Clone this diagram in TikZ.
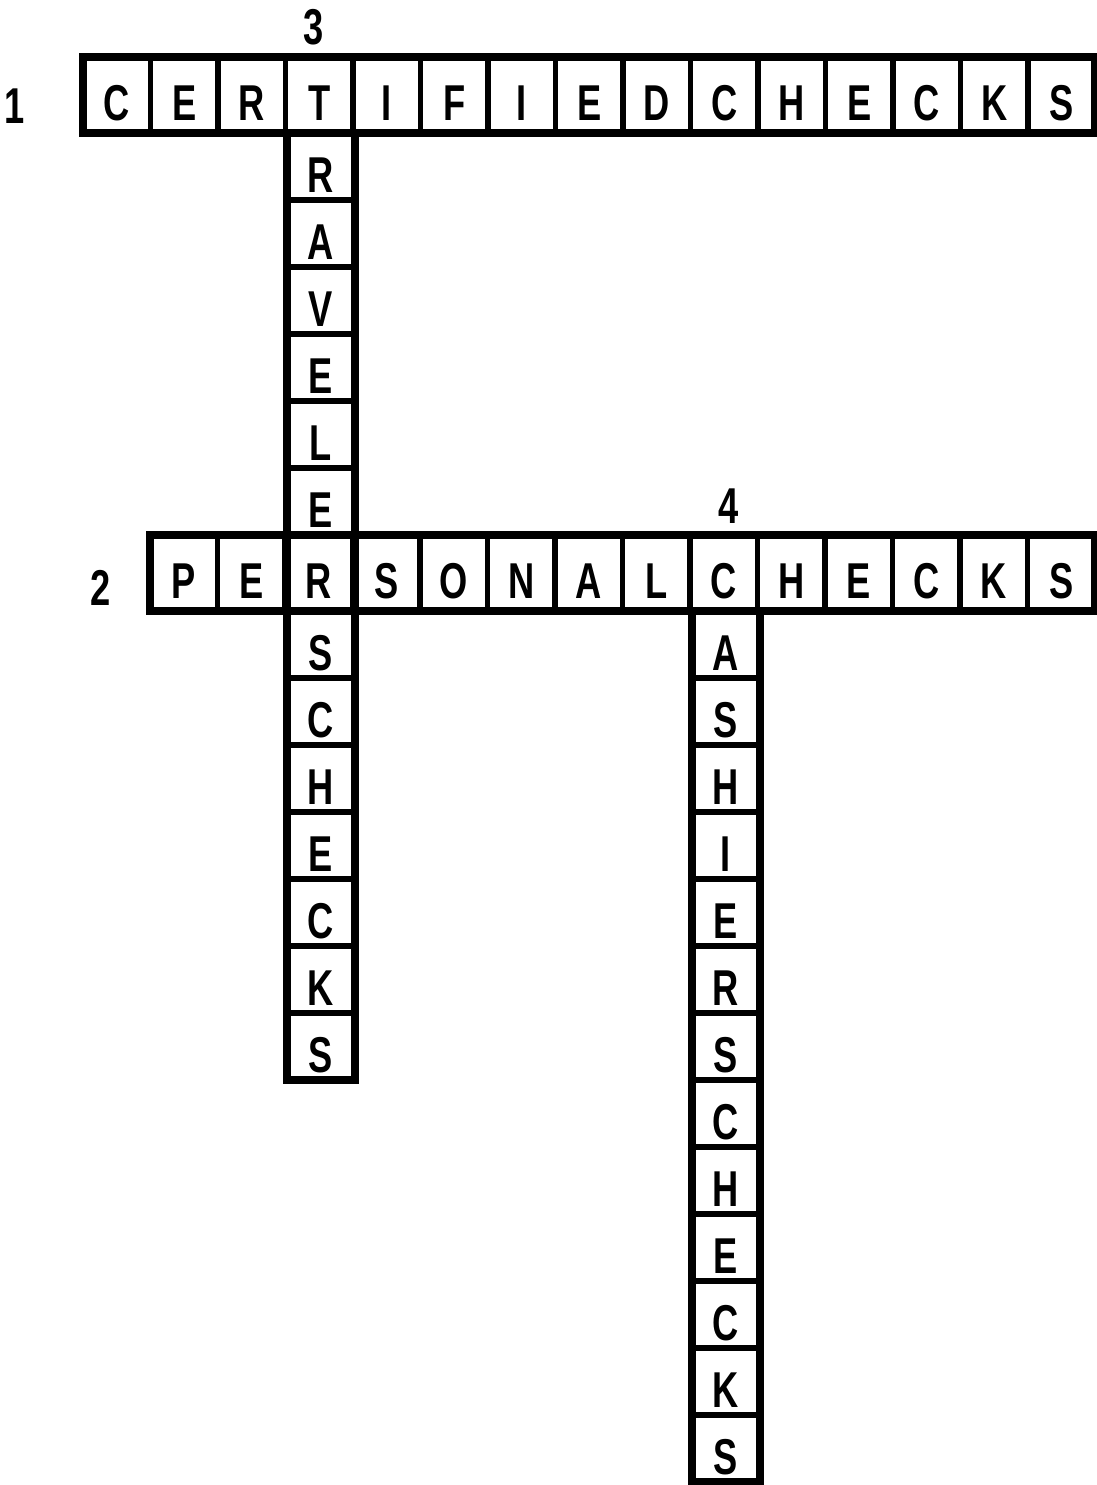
\documentclass[tikz,border=0pt]{standalone}
\usepackage{fontspec}
\usepackage{tikz}
\newfontfamily\cellfont[FakeStretch=0.72]{Liberation Sans}

\tikzset{
  cell/.style={draw, line width=5pt, outer sep=0pt, inner sep=0pt,
    minimum width=2.025cm, text height=1.55cm, text depth=0pt,
    font=\cellfont\bfseries\fontsize{43}{44}\selectfont},
  frame/.style={line width=7pt},
  num/.style={font=\cellfont\bfseries\fontsize{43}{44}\selectfont}
}

\begin{document}
\begin{tikzpicture}[x=0.03cm, y=-0.03cm]
  \def\w{67.5}
  \def\v{67}
  \useasboundingbox (0,0) rectangle (1097,1485);

  % row 1
  \foreach \l [count=\i] in {C,E,R,T,I,F,I,E,D,C,H,E,C,K,S} {
    \pgfmathsetmacro{\xc}{83+(\i-0.5)*\w}
    \node[cell, minimum height=2.28cm] (a\i) at (\xc,95) {\l};
  }

  % row 2
  \foreach \l [count=\i] in {P,E,R,S,O,N,A,L,C,H,E,C,K,S} {
    \pgfmathsetmacro{\xc}{150+(\i-0.5)*\w}
    \node[cell, minimum height=2.28cm] (p\i) at (\xc,573) {\l};
  }

  % column 3
  \foreach \l [count=\i] in {R,A,V,E,L,E} {
    \pgfmathsetmacro{\yc}{133+(\i-0.5)*\v}
    \node[cell, minimum height=2.01cm] (t\i) at (321,\yc) {\l};
  }
  \foreach \l [count=\i] in {S,C,H,E,C,K,S} {
    \pgfmathsetmacro{\yc}{611+(\i-0.5)*\v}
    \node[cell, minimum height=2.01cm] (u\i) at (321,\yc) {\l};
  }

  % column 4
  \foreach \l [count=\i] in {A,S,H,I,E,R,S,C,H,E,C,K,S} {
    \pgfmathsetmacro{\yc}{611+(\i-0.5)*\v}
    \node[cell, minimum height=2.01cm] (k\i) at (726,\yc) {\l};
  }

  \draw[frame] (a1.north west) rectangle (a15.south east);
  \draw[frame] (p1.north west) rectangle (p14.south east);
  \draw[frame] (t1.north west) rectangle (u7.south east);
  \draw[frame] (k1.north west) rectangle (k13.south east);

  \node[num] (n1) at (15,106) {1};
  \node[num] (n2) at (101,588) {2};
  \node[num] (n3) at (314,27) {3};
  \node[num] (n4) at (729,506) {4};
\end{tikzpicture}
\end{document}
